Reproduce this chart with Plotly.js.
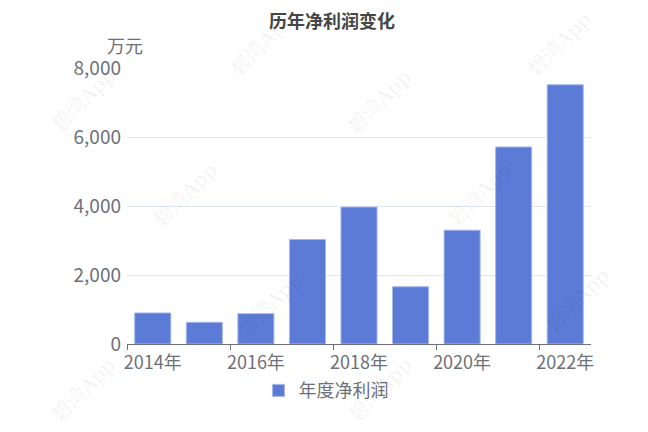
<!DOCTYPE html>
<html>
<head>
<meta charset="utf-8">
<script src="https://cdn.plot.ly/plotly-3.0.1.min.js"></script>
<style>html,body{margin:0;padding:0;background:#fff;}#chart{width:648px;height:432px;}</style>
</head>
<body>
<div id="chart"></div>
<script>
const years = ["2014年","2015年","2016年","2017年","2018年","2019年","2020年","2021年","2022年"];
const netProfit = [900, 630, 880, 3030, 3970, 1660, 3300, 5710, 7515];
const seriesName = "年度净利润";
const chartTitle = "历年净利润变化";
const yUnit = "万元";
const watermarkText = "碧湾App";

const FONT = '"Noto Sans CJK SC", "Noto Sans", sans-serif';
const GRAY = '#6e7079';

const wmPos = [[83,100],[379,102],[262,44],[560,44],[185,195],[480,195],[270,305],[578,300],[83,390],[380,390]];
const annotations = wmPos.map(p => ({
  xref:'paper', yref:'paper',
  x:(p[0]-127)/464.6, y:(344.3-p[1])/276,
  text: watermarkText, showarrow:false, textangle:-45,
  font:{family:'"DejaVu Serif", "Noto Sans CJK SC", serif', size:20, color:'rgba(0,0,0,0.06)'},
  xanchor:'center', yanchor:'middle'
}));
annotations.push({
  xref:'paper', yref:'paper', x:0, y:1, xshift:-2, yshift:23,
  text: yUnit, showarrow:false, xanchor:'center', yanchor:'middle',
  font:{family:FONT, size:18, color:GRAY}
});

const data = [{
  type:'bar', x: years, y: netProfit, name: seriesName,
  marker:{color:'#5b7bd6', line:{color:'#a7b8ee', width:1}},
  hoverinfo:'x+y'
}];

const layout = {
  width:648, height:432,
  margin:{l:127, r:57, t:68, b:88},
  paper_bgcolor:'#fff', plot_bgcolor:'#fff',
  font:{family:FONT, size:18, color:GRAY},
  title:{text:'<b>'+chartTitle+'</b>', x:332/648, xanchor:'center', y:1-22/432, yanchor:'middle', font:{family:FONT, size:18, color:'#464646'}},
  bargap:0.3,
  xaxis:{
    type:'category', tickmode:'linear', tick0:0, dtick:2, tickson:'boundaries', tickangle:0,
    ticks:'outside', ticklen:5, tickcolor:GRAY, showline:true, linecolor:GRAY, linewidth:1,
    showgrid:false, zeroline:false, tickfont:{family:FONT, size:18, color:GRAY}, ticklabelstandoff:2
  },
  yaxis:{
    range:[0,8000], tickvals:[0,2000,4000,6000,8000], ticktext:['0','2,000','4,000','6,000','8,000'],
    showgrid:true, gridcolor:'#e0e6f1', gridwidth:1, zeroline:false, showline:false,
    ticks:'', ticklabelstandoff:5, tickfont:{family:FONT, size:19, color:GRAY}
  },
  showlegend:true,
  legend:{orientation:'h', x:(326-126.7)/464.6, xanchor:'center', y:-(391-344.3)/276, yanchor:'middle',
    font:{family:FONT, size:18, color:GRAY}, bgcolor:'rgba(0,0,0,0)'},
  annotations: annotations
};

Plotly.newPlot('chart', data, layout, {displayModeBar:false, staticPlot:true});
</script>
</body>
</html>
